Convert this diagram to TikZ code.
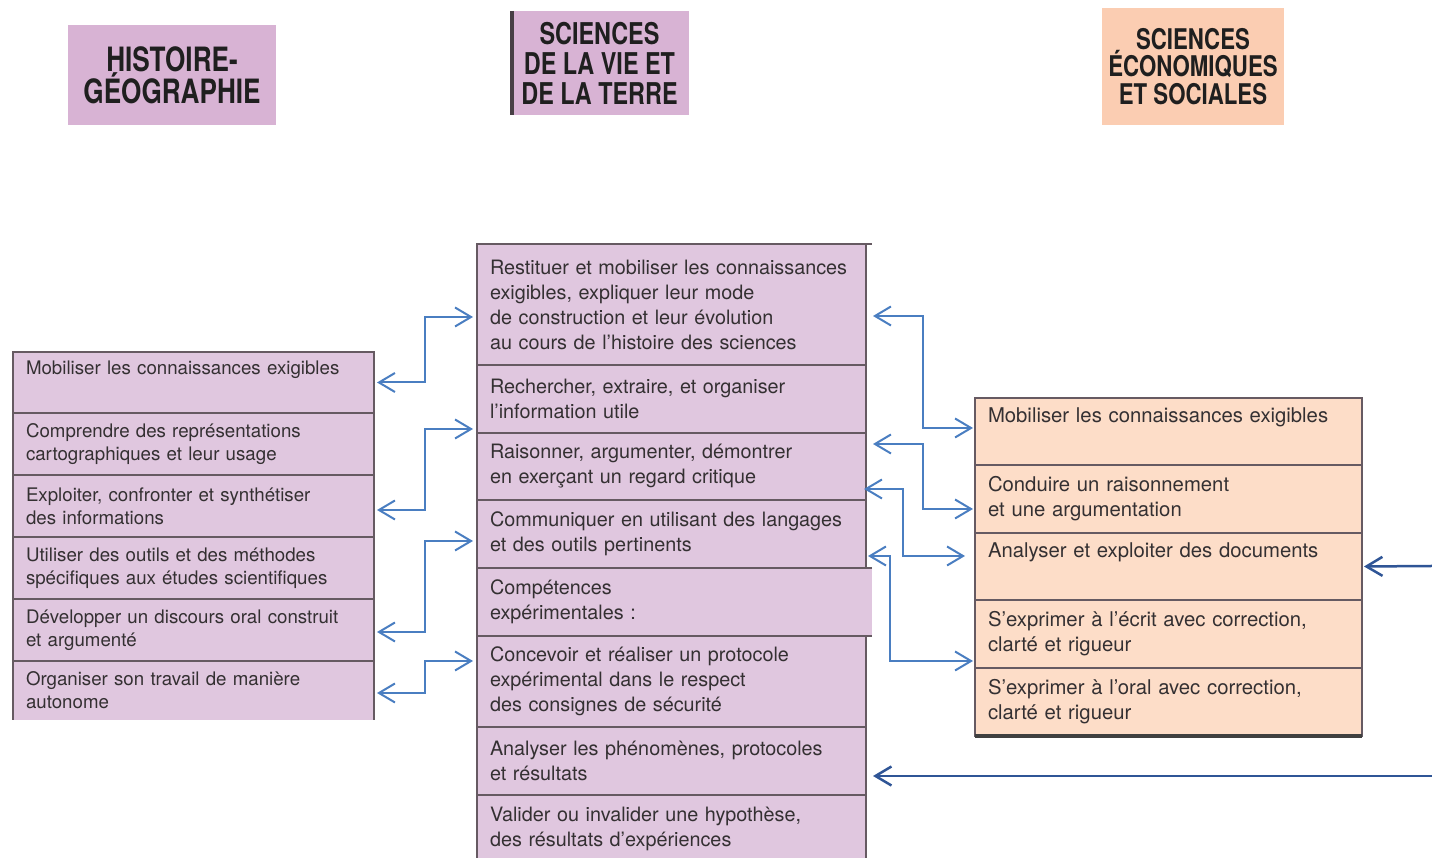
\documentclass[tikz,border=0pt]{standalone}
\usepackage{fontspec}
\setmainfont{TeX Gyre Heros}
\newfontfamily\headfont[FakeStretch=0.78]{TeX Gyre Heros}
\usepackage{xcolor}
\usetikzlibrary{arrows.meta,positioning}
\definecolor{hdpurple}{RGB}{216,179,212}
\definecolor{hdpeach}{RGB}{251,205,178}
\definecolor{rowpurple}{RGB}{224,199,223}
\definecolor{rowpeach}{RGB}{253,221,200}
\definecolor{frame}{RGB}{102,90,98}
\definecolor{txt}{RGB}{52,48,50}
\definecolor{lnkblue}{RGB}{74,126,193}
\definecolor{lnkdark}{RGB}{47,85,150}

\begin{document}
\begin{tikzpicture}[x=1pt,y=1pt,node distance=0pt,
          head/.style={fill=#1,align=center,inner sep=0pt,text=black!88},
          row/.style={draw=frame,line width=2pt,outer sep=0pt,align=left,
                      inner xsep=13pt,inner ysep=0pt,text=txt,minimum height=#1},
          hgrow/.style={row=#1,fill=rowpurple,text width=335pt,
                        font=\fontsize{18.7}{23}\selectfont},
          svtrow/.style={row=#1,fill=rowpurple,text width=363pt,
                         font=\fontsize{19.8}{25}\selectfont},
          sesrow/.style={row=#1,fill=rowpeach,text width=361pt,
                         font=\fontsize{20.3}{25}\selectfont},
          link/.style={{Straight Barb[length=16pt,width=19pt]}-{Straight Barb[length=16pt,width=19pt]},
                       line width=2pt,lnkblue},
          longlink/.style={{Straight Barb[length=16pt,width=19pt]}-,line width=2.5pt,lnkdark}]
        \useasboundingbox (0,0) rectangle (1432,858);
        \node[head=hdpurple,minimum width=208pt,minimum height=100pt,
              font=\headfont\bfseries\fontsize{33.5}{32}\selectfont]
          (hg) at (172,783) {HISTOIRE-\\GÉOGRAPHIE};
        \node[head=hdpurple,minimum width=179pt,minimum height=104pt,
              font=\headfont\bfseries\fontsize{30}{30}\selectfont]
          (svt) at (599.5,795) {SCIENCES\\DE LA VIE ET\\DE LA TERRE};
        \draw[frame!70!black,line width=4pt] ([xshift=2pt]svt.north west) -- ([xshift=2pt]svt.south west);
        \node[head=hdpeach,minimum width=182pt,minimum height=117pt,
              font=\headfont\bfseries\fontsize{28.5}{27.5}\selectfont]
          (ses) at (1193,791.5) {SCIENCES\\ÉCONOMIQUES\\ET SOCIALES};
        \node[hgrow=61pt,anchor=north west] (h1) at (13,506) {Mobiliser les connaissances exigibles\\\strut};
        \node[hgrow=62pt,below=of h1] (h2) {Comprendre des représentations\\cartographiques et leur usage};
        \node[hgrow=62pt,below=of h2] (h3) {Exploiter, confronter et synthétiser\\des informations};
        \node[hgrow=62pt,below=of h3] (h4) {Utiliser des outils et des méthodes\\spécifiques aux études scientifiques};
        \node[hgrow=62pt,below=of h4] (h5) {Développer un discours oral construit\\et argumenté};
        \node[hgrow=59pt,draw=none,below=of h5] (h6) {Organiser son travail de manière\\autonome};
        \draw[frame,line width=2pt] (h6.south west) -- (h6.north west) -- (h6.north east) -- (h6.south east);
        \node[svtrow=121pt,anchor=north west] (s1) at (477,614)
          {Restituer et mobiliser les connaissances\\exigibles, expliquer leur mode\\de construction et leur évolution\\au cours de l'histoire des sciences};
        \draw[frame,line width=2pt] (s1.north east) -- ++(6,0);
        \node[svtrow=68pt,below=of s1] (s2) {Rechercher, extraire, et organiser\\l'information utile};
        \node[svtrow=67pt,below=of s2] (s3) {Raisonner, argumenter, démontrer\\en exerçant un regard critique};
        \node[svtrow=68pt,below=of s3] (s4) {Communiquer en utilisant des langages\\et des outils pertinents};
        \node[svtrow=68pt,draw=none,text width=369pt,anchor=north west] (s5) at (s4.south west)
          {Compétences\\expérimentales :};
        \draw[frame,line width=2pt] (s5.north east) -- (s5.north west) -- (s5.south west) -- (s5.south east);
        \node[svtrow=91pt,anchor=north west] (s6) at (s5.south west)
          {Concevoir et réaliser un protocole\\expérimental dans le respect\\des consignes de sécurité};
        \node[svtrow=68pt,below=of s6] (s7) {Analyser les phénomènes, protocoles\\et résultats};
        \node[svtrow=67pt,below=of s7] (s8) {Valider ou invalider une hypothèse,\\des résultats d'expériences};
        \node[sesrow=67pt,anchor=north west] (e1) at (975,460) {Mobiliser les connaissances exigibles\\\strut};
        \node[sesrow=68pt,below=of e1] (e2) {Conduire un raisonnement\\et une argumentation};
        \node[sesrow=67pt,below=of e2] (e3) {Analyser et exploiter des documents\\\strut};
        \node[sesrow=68pt,below=of e3] (e4) {S'exprimer à l'écrit avec correction,\\clarté et rigueur};
        \node[sesrow=68pt,below=of e4] (e5) {S'exprimer à l'oral avec correction,\\clarté et rigueur};
        \draw[black!75,line width=4pt] (e5.south west) -- (e5.south east);
        \coordinate (edgeA) at (1432,292);
        \coordinate (edgeB) at (1432,82);
        \draw[link] ([xshift=3pt]h1.east) -- ++(48,0) |- ([xshift=-4pt,yshift=-12.5pt]s1.west);
        \draw[link] ([xshift=3pt,yshift=-4pt]h3.east) -- ++(48,0) |- ([xshift=-4pt,yshift=4pt]s2.south west);
        \draw[link] ([xshift=3pt,yshift=-2pt]h5.east) -- ++(48,0) |- ([xshift=-4pt,yshift=-7pt]s4.west);
        \draw[link] ([xshift=3pt,yshift=-2.5pt]h6.east) -- ++(48,0) |- ([xshift=-4pt,yshift=20.5pt]s6.west);
        \draw[link] ([xshift=7pt,yshift=-11.5pt]s1.east) -- ++(50,0) |- ([xshift=-2pt,yshift=3.5pt]e1.west);
        \draw[link] ([xshift=7pt,yshift=22.5pt]s3.east) -- ++(50,0) |- ([xshift=-2pt,yshift=-10pt]e2.west);
        \draw[link] ([xshift=-2pt,yshift=-22.5pt]s3.east) -- ++(39,0) |- ([xshift=-10pt,yshift=10.5pt]e3.west);
        \draw[link] ([xshift=2pt,yshift=-22pt]s4.east) -- ++(22,0) |- ([xshift=-2pt,yshift=-27pt]e4.west);
        \draw[longlink] ([xshift=2pt]e3.east) -- (edgeA);
        \draw[longlink] ([xshift=7pt,yshift=-15pt]s7.east) -- (edgeB);
      \end{tikzpicture}
\end{document}
